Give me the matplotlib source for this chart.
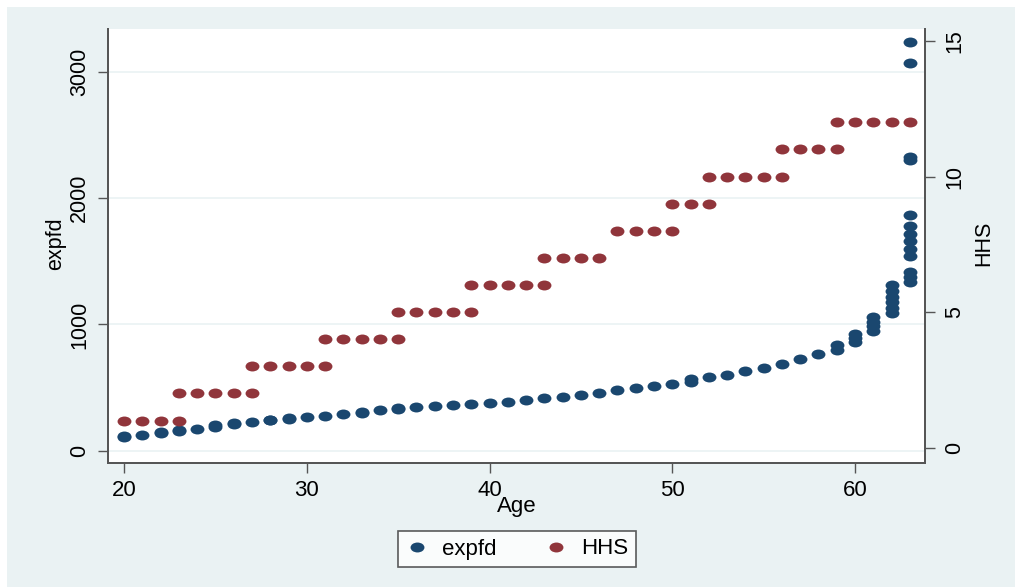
import matplotlib
matplotlib.use("Agg")
import matplotlib.pyplot as plt
from matplotlib.path import Path
from matplotlib.transforms import Affine2D
from matplotlib.patches import Rectangle
from matplotlib.lines import Line2D

plt.rcParams['font.family'] = ['Liberation Sans', 'DejaVu Sans']

# expfd by age (several households per age near the top end)
exp_age = [20, 20, 21, 22, 22, 23, 23, 24, 25, 25, 26, 26, 27, 28, 28, 29, 29, 30,
           31, 32, 33, 33, 34, 35, 35, 36, 37, 38, 39, 40, 41, 42, 43, 44, 45, 46,
           47, 48, 49, 50, 51, 51, 52, 53, 54, 55, 56, 57, 58, 59, 59,
           60, 60, 60, 61, 61, 61, 61, 62, 62, 62, 62, 62, 62,
           63, 63, 63, 63, 63, 63, 63, 63, 63, 63, 63, 63, 63]
exp_val = [105, 118, 124, 140, 148, 160, 168, 174, 190, 200, 212, 220, 227, 240, 246,
           252, 260, 269, 277, 288, 300, 308, 322, 330, 338, 348, 354, 359, 367, 378,
           388, 401, 420, 428, 443, 459, 481, 494, 512, 528, 542, 566, 581, 602, 631,
           652, 686, 726, 766, 800, 836,
           860, 890, 925, 945, 985, 1020, 1058, 1090, 1130, 1175, 1220, 1265, 1310,
           1335, 1375, 1413, 1540, 1600, 1660, 1720, 1778, 1866, 2300, 2330, 3067, 3238]

# HHS by age
hhs_age = [20, 21, 22, 23,
           23, 24, 25, 26, 27,
           27, 28, 29, 30, 31,
           31, 32, 33, 34, 35,
           35, 36, 37, 38, 39,
           39, 40, 41, 42, 43,
           43, 44, 45, 46,
           47, 48, 49, 50,
           50, 51, 52,
           52, 53, 54, 55, 56,
           56, 57, 58, 59,
           59, 60, 61, 62, 63]
hhs_val = [1, 1, 1, 1,
           2, 2, 2, 2, 2,
           3, 3, 3, 3, 3,
           4, 4, 4, 4, 4,
           5, 5, 5, 5, 5,
           6, 6, 6, 6, 6,
           7, 7, 7, 7,
           8, 8, 8, 8,
           9, 9, 9,
           10, 10, 10, 10, 10,
           11, 11, 11, 11,
           12, 12, 12, 12, 12]

x_ticks = [20, 30, 40, 50, 60]
left_ticks = [0, 1000, 2000, 3000]
right_ticks = [0, 5, 10, 15]

navy = '#1A476F'
maroon = '#90353B'
bg = '#EAF2F3'
axcol = '#555555'

# stata dots look a bit wider than tall
dot = Path.unit_circle().transformed(Affine2D().scale(1.4, 1.0))

fig = plt.figure(figsize=(10.15, 5.87), dpi=100, facecolor='white')
fig.add_artist(Rectangle((7 / 1015, 0), 1, 1 - 7 / 587, transform=fig.transFigure,
                         facecolor=bg, edgecolor='none', zorder=-10))

ax = fig.add_axes([108 / 1015, 1 - 463 / 587, 817 / 1015, 434 / 587])
ax.set_facecolor('white')
ax2 = ax.twinx()

ax.plot(exp_age, exp_val, linestyle='none', marker=dot, markersize=10,
        color=navy, markeredgewidth=0)
ax2.plot(hhs_age, hhs_val, linestyle='none', marker=dot, markersize=10,
         color=maroon, markeredgewidth=0)

ax.set_xlim(19.12, 63.83)
ax.set_ylim(-97, 3340)
ax2.set_ylim(-0.565, 15.44)

ax.set_xticks(x_ticks)
ax.set_yticks(left_ticks)
ax2.set_yticks(right_ticks)

ax.grid(axis='y', color=bg, linewidth=1.2)
ax.set_axisbelow(True)

for a in (ax, ax2):
    a.spines['top'].set_visible(False)
    for s in ('left', 'right', 'bottom'):
        a.spines[s].set_color(axcol)
        a.spines[s].set_linewidth(1.3)

ax.tick_params(axis='x', length=7, width=1, color=axcol, pad=5, labelsize=16)
ax.tick_params(axis='y', length=7, width=1, color=axcol, pad=6, labelsize=15.5,
               labelrotation=90)
ax2.tick_params(axis='y', length=7, width=1, color=axcol, pad=7, labelsize=15.5,
                labelrotation=90)
for t in ax.get_yticklabels() + ax2.get_yticklabels():
    t.set_va('center')

ax.set_xlabel('Age', fontsize=16)
ax.xaxis.set_label_coords(0.5, -0.101)
ax.xaxis.label.set_va('center')
ax.set_ylabel('expfd', fontsize=15.5)
ax.yaxis.set_label_coords(-0.0636, 0.505)
ax.yaxis.label.set_va('center')
ax2.set_ylabel('HHS', fontsize=15.5, rotation=90)
ax2.yaxis.set_label_coords(1.072, 0.507)
ax2.yaxis.label.set_va('center')

handles = [Line2D([], [], linestyle='none', marker=dot, markersize=10, color=navy,
                  markeredgewidth=0),
           Line2D([], [], linestyle='none', marker=dot, markersize=10, color=maroon,
                  markeredgewidth=0)]
leg = fig.legend(handles, ['expfd', 'HHS'], loc='center', ncol=2,
                 bbox_to_anchor=(517 / 1015, 1 - 549 / 587), fontsize=16,
                 frameon=True, fancybox=False, edgecolor='#333333',
                 handlelength=1.0, handletextpad=0.6, columnspacing=2.2,
                 borderpad=0.35, borderaxespad=0)
leg.get_frame().set_linewidth(1.2)

fig.savefig('out.png', dpi=100, facecolor=fig.get_facecolor())
